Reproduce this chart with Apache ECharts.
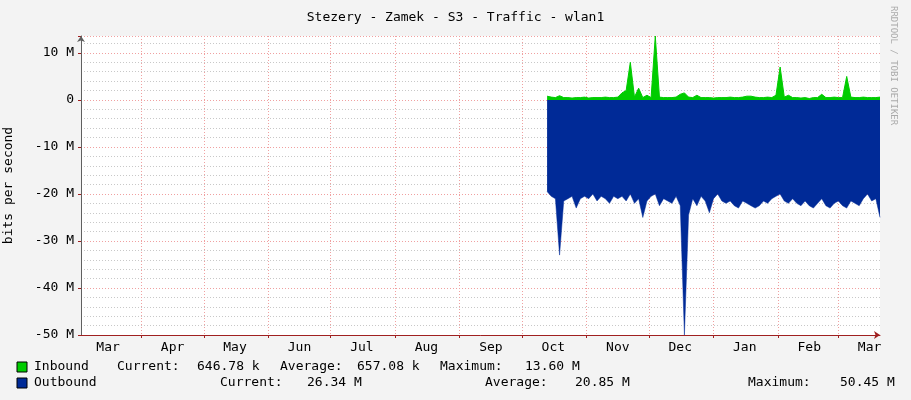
<!DOCTYPE html>
<html>
<head>
<meta charset="utf-8">
<script src="https://cdn.jsdelivr.net/npm/echarts@6/dist/echarts.min.js"></script>
<style>
html, body { margin: 0; padding: 0; background: #f3f3f3; }
#main { width: 911px; height: 400px; }
</style>
</head>
<body>
<div id="main"></div>
<script>
// timeline: one category per day, starting 2023-03-03
var startDate = new Date(Date.UTC(2023, 2, 3));
var dayCount = 385;
var dataStartDay = 224; // first sample (mid October)
var sampleStep = 2;     // one value every 2 days

// inbound, Mbit/s
var inbound = [
  0.8, 0.6, 0.5, 0.9, 0.5, 0.5, 0.4, 0.5, 0.5, 0.6,
  0.4, 0.5, 0.5, 0.5, 0.6, 0.5, 0.5, 0.6, 1.5, 2.0,
  8.0, 0.6, 2.5, 0.5, 1.0, 0.5, 13.6, 0.6, 0.5, 0.5,
  0.5, 0.6, 1.2, 1.5, 0.6, 0.5, 1.0, 0.5, 0.5, 0.5,
  0.4, 0.5, 0.5, 0.5, 0.6, 0.5, 0.5, 0.6, 0.8, 0.8,
  0.6, 0.5, 0.5, 0.6, 0.5, 1.0, 7.0, 0.6, 1.0, 0.5,
  0.5, 0.4, 0.5, 0.3, 0.5, 0.5, 1.2, 0.5, 0.5, 0.6,
  0.5, 0.5, 5.0, 0.6, 0.5, 0.5, 0.6, 0.5, 0.5, 0.5,
  0.6
];
// outbound, Mbit/s (drawn below zero)
var outbound = [
  19.5, 20.5, 21.0, 33.0, 21.5, 21.0, 20.5, 23.0, 21.0, 20.5,
  21.0, 20.0, 21.5, 20.5, 21.0, 22.0, 20.5, 21.0, 20.5, 21.5,
  20.0, 22.0, 21.0, 25.0, 21.5, 20.5, 20.0, 22.5, 21.0, 21.5,
  22.0, 20.5, 22.5, 50.0, 24.5, 21.0, 22.5, 20.5, 21.5, 24.0,
  21.0, 20.0, 21.5, 22.0, 21.5, 22.5, 23.0, 21.5, 22.0, 22.5,
  23.0, 22.5, 21.5, 22.0, 21.0, 20.5, 20.0, 21.5, 22.0, 21.0,
  22.0, 22.5, 21.5, 22.5, 23.0, 22.0, 21.0, 22.5, 23.0, 22.0,
  21.5, 22.5, 23.0, 21.5, 22.0, 22.5, 21.0, 20.0, 21.5, 21.0,
  25.0
];
var monthNames = ['Jan','Feb','Mar','Apr','May','Jun','Jul','Aug','Sep','Oct','Nov','Dec'];
var yTicks = [-50, -40, -30, -20, -10, 0, 10];

var days = [];
for (var d = 0; d < dayCount; d++) {
    var dt = new Date(startDate.getTime() + d * 86400000);
    days.push(dt.toISOString().slice(0, 10));
}
function dayOfMonth(v) { return parseInt(v.slice(8, 10), 10); }
function monthLabel(v) { return monthNames[parseInt(v.slice(5, 7), 10) - 1]; }

var inData = inbound.map(function (v, i) { return [dataStartDay + i * sampleStep, v * 1e6]; });
var outData = outbound.map(function (v, i) { return [dataStartDay + i * sampleStep, -v * 1e6]; });

var mono = 'DejaVu Sans Mono';
var FS = 13;
var txt = function (x, y, s) {
    return { type: 'text', x: x, y: y, style: { text: s, font: FS + 'px ' + mono, fill: '#000' } };
};

var myChart = echarts.init(document.getElementById('main'));
var option = {
    backgroundColor: '#f3f3f3',
    animation: false,
    title: {
        text: 'Stezery - Zamek - S3 - Traffic - wlan1',
        left: 'center', top: 6,
        textStyle: { fontFamily: mono, fontWeight: 'normal', fontSize: FS, color: '#000' }
    },
    grid: { left: 81, right: 31, top: 36, bottom: 65, containLabel: false, outerBoundsMode: 'none',
        show: true, backgroundColor: '#fff', borderWidth: 0 },
    xAxis: {
        type: 'category',
        data: days,
        boundaryGap: false,
        axisLine: { onZero: false, lineStyle: { color: '#a02020' }, symbol: ['none', 'arrow'], symbolSize: [6, 6] },
        axisTick: { show: true, length: 3, lineStyle: { color: '#a02020' },
            interval: function (i, v) { return dayOfMonth(v) === 1; } },
        axisLabel: {
            interval: function (i, v) { return dayOfMonth(v) === 16; },
            formatter: function (v) { return monthLabel(v); },
            fontFamily: mono, fontSize: FS, color: '#000', margin: 6
        },
        splitLine: { show: true, lineStyle: { color: '#f0a0a0', type: [1, 2], width: 1 },
            interval: function (i, v) { return dayOfMonth(v) === 1; } }
    },
    yAxis: {
        type: 'value',
        min: -50e6, max: 13.6e6, interval: 10e6,
        name: 'bits per second', nameLocation: 'middle', nameGap: 66, nameRotate: 90,
        nameTextStyle: { fontFamily: mono, fontSize: FS, color: '#000' },
        axisLine: { show: true, lineStyle: { color: '#606060' }, symbol: ['none', 'arrow'], symbolSize: [6, 6] },
        axisTick: { show: true, length: 3, lineStyle: { color: '#a02020' } },
        axisLabel: {
            fontFamily: mono, fontSize: FS, color: '#000', margin: 7,
            customValues: yTicks.map(function (v) { return v * 1e6; }),
            formatter: function (v) { return v === 0 ? '0' : (v / 1e6) + ' M'; }
        },
        splitLine: { show: true, lineStyle: { color: '#f0a0a0', type: [1, 2] } },
        minorTick: { show: false, splitNumber: 5 },
        minorSplitLine: { show: true, lineStyle: { color: '#c8c8c8', type: [1, 2] } }
    },
    series: [
        {
            name: 'Outbound', type: 'line', data: outData, symbol: 'none',
            lineStyle: { width: 0.5, color: '#002a97' },
            areaStyle: { color: '#002a97', opacity: 1 }
        },
        {
            name: 'Inbound', type: 'line', data: inData, symbol: 'none',
            lineStyle: { width: 1, color: '#00cc00' },
            areaStyle: { color: '#00cc00', opacity: 1 }
        }
    ],
    graphic: [
        { type: 'text', x: 898, y: 6, rotation: -Math.PI / 2,
          style: { text: 'RRDTOOL / TOBI OETIKER', font: '9px ' + mono, fill: '#aaa' } },
        { type: 'rect', x: 17, y: 362, shape: { width: 10, height: 10 }, style: { fill: '#00cc00', stroke: '#000', lineWidth: 1 } },
        { type: 'rect', x: 17, y: 378, shape: { width: 10, height: 10 }, style: { fill: '#002a97', stroke: '#000', lineWidth: 1 } },
        txt(34, 360, 'Inbound'),
        txt(117, 360, 'Current:'), txt(197, 360, '646.78 k'),
        txt(280, 360, 'Average:'), txt(357, 360, '657.08 k'),
        txt(440, 360, 'Maximum:'), txt(525, 360, '13.60 M'),
        txt(34, 376, 'Outbound'),
        txt(220, 376, 'Current:'), txt(307, 376, '26.34 M'),
        txt(485, 376, 'Average:'), txt(575, 376, '20.85 M'),
        txt(748, 376, 'Maximum:'), txt(840, 376, '50.45 M')
    ]
};
myChart.setOption(option);
</script>
</body>
</html>
